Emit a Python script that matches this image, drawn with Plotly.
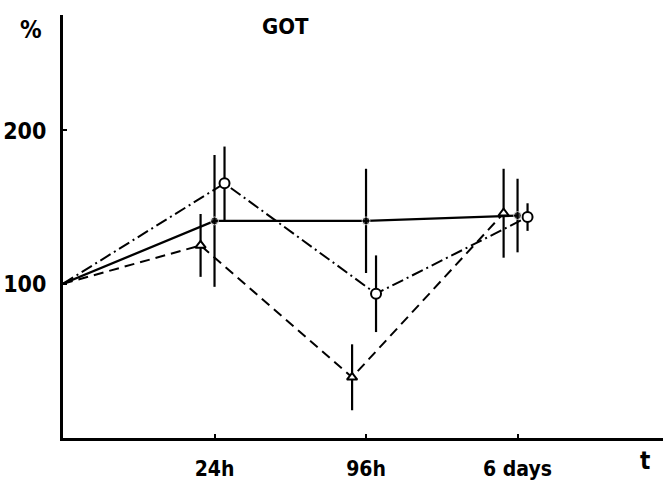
import plotly.graph_objects as go

# ---- data ----
positions = [0, 1, 2, 3]
tick_labels = ["", "24h", "96h", "6 days"]
y_tick_vals = [100, 200]
y_tick_text = ["100", "200"]

solid_mean = [100, 141, 141, 144.5]
solid_err = [0, 43, 34, 24]

circle_mean = [100, 165.5, 93.5, 143.5]
circle_err = [0, 24, 25, 9]

triangle_mean = [100, 125, 39, 146]
triangle_err = [0, 20.5, 21.5, 29]

# ---- styling ----
FONT = "DejaVu Sans Condensed, Liberation Sans Narrow, DejaVu Sans, sans-serif"
circle_shift = 0.066
triangle_shift = -0.092


def shifted(shift):
    return [p if p == 0 else p + shift for p in positions]


fig = go.Figure()

fig.add_trace(go.Scatter(
    x=shifted(triangle_shift), y=triangle_mean, mode="lines+markers",
    line=dict(color="black", width=2, dash="10px,6px"),
    marker=dict(symbol=["circle"] + ["triangle-up"] * 3, size=[0, 9, 9, 9],
                color="white", opacity=1, line=dict(color="black", width=2)),
    error_y=dict(type="data", array=triangle_err, visible=True,
                 color="black", thickness=2.2, width=0),
    showlegend=False,
))

fig.add_trace(go.Scatter(
    x=shifted(circle_shift), y=circle_mean, mode="lines+markers",
    line=dict(color="black", width=2, dash="12px,4px,2px,4px"),
    marker=dict(symbol="circle", size=[0, 10, 10, 10],
                color="white", opacity=1, line=dict(color="black", width=2)),
    error_y=dict(type="data", array=circle_err, visible=True,
                 color="black", thickness=2.2, width=0),
    showlegend=False,
))

fig.add_trace(go.Scatter(
    x=positions, y=solid_mean, mode="lines+markers",
    line=dict(color="black", width=2.3),
    marker=dict(symbol="circle", size=[0, 8, 8, 8], color="black"),
    error_y=dict(type="data", array=solid_err, visible=True,
                 color="black", thickness=2.2, width=0),
    showlegend=False,
))

fig.update_layout(
    width=663, height=481,
    margin=dict(l=63, r=0, t=15, b=41),
    paper_bgcolor="white", plot_bgcolor="white",
    font=dict(family=FONT, color="black", size=21, weight="bold"),
    xaxis=dict(range=[0, 3.96], showline=True, linecolor="black", linewidth=3,
               showgrid=False, zeroline=False,
               tickvals=positions, ticktext=tick_labels,
               ticks="inside", ticklen=4, tickwidth=2, tickcolor="black",
               ticklabelstandoff=10,
               tickfont=dict(family=FONT, size=21, color="black", weight="bold")),
    yaxis=dict(range=[-0.6, 275.3], showline=True, linecolor="black", linewidth=3,
               showgrid=False, zeroline=False,
               tickvals=y_tick_vals, ticktext=y_tick_text,
               ticks="inside", ticklen=4, tickwidth=2, tickcolor="black",
               ticklabelstandoff=9,
               tickfont=dict(family=FONT, size=23, color="black", weight="bold")),
    annotations=[
        dict(text="%", xref="paper", yref="paper", x=-0.053, y=0.965,
             xanchor="center", yanchor="middle", showarrow=False,
             font=dict(family=FONT, size=24, color="black", weight="bold")),
        dict(text="GOT", xref="paper", yref="paper", x=0.37, y=0.973,
             xanchor="center", yanchor="middle", showarrow=False,
             font=dict(family=FONT, size=22, color="black", weight="bold")),
        dict(text="t", xref="paper", yref="paper", x=0.97, y=-0.055,
             xanchor="center", yanchor="middle", showarrow=False,
             font=dict(family=FONT, size=24, color="black", weight="bold")),
    ],
)

fig.write_html("out.html")
